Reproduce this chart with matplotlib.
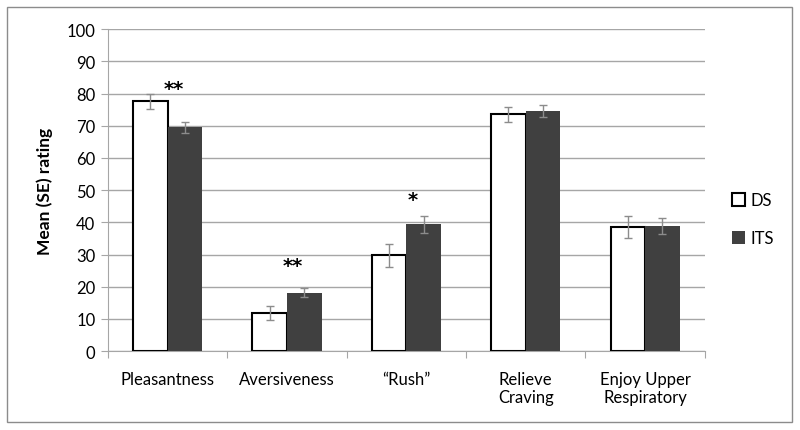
import matplotlib.pyplot as plt
import numpy as np
from matplotlib.patches import Rectangle

categories = ['Pleasantness', 'Aversiveness', '\u201cRush\u201d', 'Relieve\nCraving', 'Enjoy Upper\nRespiratory']
ds_mean = [77.6, 11.8, 29.8, 73.5, 38.6]
ds_se = [2.3, 2.1, 3.6, 2.4, 3.5]
its_mean = [69.6, 18.2, 39.4, 74.6, 38.9]
its_se = [1.7, 1.4, 2.7, 1.8, 2.5]
stars = ['**', '**', '*', '', '']
star_y = [81.5, 26.5, 47, 0, 0]

plt.rcParams['font.family'] = ['Lato', 'DejaVu Sans']

fig = plt.figure(figsize=(8, 4.31), dpi=100)
ax = fig.add_axes([0.135, 0.183, 0.746, 0.747])

x = np.arange(len(categories))
w = 0.29
err_kw = dict(ecolor='#8c8c8c', elinewidth=1, capsize=3, capthick=1)
ax.bar(x - w / 2, ds_mean, w, yerr=ds_se, color='white', edgecolor='black',
       linewidth=1.5, label='DS', error_kw=err_kw, zorder=3)
ax.bar(x + w / 2, its_mean, w, yerr=its_se, color='#404040', edgecolor='#404040',
       linewidth=0, label='ITS', error_kw=err_kw, zorder=3)

for i, s in enumerate(stars):
    if s:
        ax.text(x[i] + 0.05, star_y[i], s, ha='center', va='center',
                fontsize=14, fontweight='bold', family='DejaVu Sans')

ax.set_xlim(-0.5, len(categories) - 0.5)
ax.set_ylim(0, 100)
ax.set_yticks(range(0, 101, 10))
ax.yaxis.grid(True, color='#a6a6a6', linewidth=1)
ax.set_axisbelow(True)

ax.set_xticks(np.arange(-0.5, len(categories), 1.0))
ax.set_xticklabels([])
ax.set_xticks(x, minor=True)
ax.set_xticklabels(categories, minor=True, fontsize=12, multialignment='center')
ax.tick_params(axis='x', which='minor', length=0, pad=14)
ax.tick_params(axis='x', which='major', length=5, color='#a6a6a6')
ax.tick_params(axis='y', length=5, color='#a6a6a6', labelsize=12, pad=4)

for side in ['top', 'right']:
    ax.spines[side].set_visible(False)
for side in ['left', 'bottom']:
    ax.spines[side].set_color('#a6a6a6')

ax.set_ylabel('Mean (SE) rating', fontsize=12.5, fontweight='bold', labelpad=10)

ax.legend(loc='center left', bbox_to_anchor=(1.02, 0.41), frameon=False,
          fontsize=12, handlelength=0.8, handleheight=0.8, labelspacing=1.3,
          handletextpad=0.3)

fig.patches.append(Rectangle((7 / 800, 8 / 431), 785 / 800, 415 / 431,
                             transform=fig.transFigure, fill=False,
                             edgecolor='#8c8c8c', linewidth=1))

fig.savefig('out.png', dpi=100)
